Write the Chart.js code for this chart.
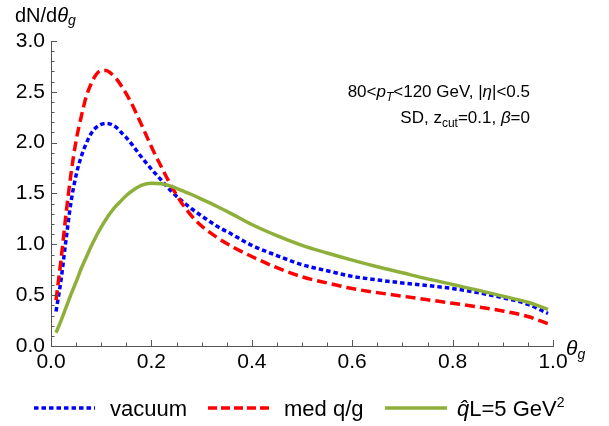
<!DOCTYPE html>
<html>
<head>
<meta charset="utf-8">
<script src="https://cdn.jsdelivr.net/npm/chart.js@4/dist/chart.umd.min.js"></script>
<style>
html,body{margin:0;padding:0;background:#fff;}
#wrap{position:relative;width:609px;height:426px;}
</style>
</head>
<body>
<div id="wrap"><canvas id="c" width="609" height="426"></canvas></div>
<script>
const thetaG = [0.01,0.02,0.03,0.04,0.05,0.06,0.07,0.08,0.09,0.10,0.11,0.12,0.13,0.14,0.15,0.16,0.18,0.20,0.22,0.24,0.26,0.28,0.30,0.33,0.36,0.40,0.45,0.50,0.55,0.60,0.65,0.70,0.75,0.80,0.85,0.90,0.95,0.99];
const vacuum = [0.34,0.65,1.05,1.42,1.68,1.86,1.99,2.09,2.15,2.18,2.19,2.18,2.15,2.10,2.05,1.99,1.86,1.74,1.63,1.52,1.43,1.35,1.28,1.18,1.10,0.99,0.89,0.80,0.74,0.685,0.65,0.62,0.595,0.565,0.525,0.475,0.41,0.32];
const medQG = [0.45,0.85,1.30,1.70,2.02,2.25,2.45,2.58,2.67,2.71,2.71,2.68,2.63,2.56,2.48,2.39,2.18,1.96,1.76,1.57,1.41,1.28,1.18,1.07,0.98,0.88,0.77,0.68,0.62,0.565,0.525,0.49,0.455,0.42,0.385,0.345,0.29,0.22];
const qhatL5 = [0.13,0.25,0.38,0.51,0.63,0.76,0.87,0.98,1.08,1.17,1.25,1.32,1.38,1.43,1.48,1.52,1.58,1.60,1.595,1.57,1.53,1.49,1.445,1.375,1.30,1.195,1.085,0.99,0.915,0.845,0.78,0.72,0.66,0.605,0.55,0.49,0.43,0.36];
const xTicks = [0.0,0.2,0.4,0.6,0.8,1.0];
const yTicks = [0.0,0.5,1.0,1.5,2.0,2.5,3.0];
const seriesNames = ["vacuum","med q/g","q\u0302L=5 GeV\u00b2"];

const BLUE = "#0000ff", RED = "#ff0000", GREEN = "#8eb03a";
const FONT = "'Liberation Sans', Arial, sans-serif";
const pts = arr => thetaG.map((x,i)=>({x:x,y:arr[i]}));

function drawRich(ctx, segs, xRight, base, align) {
  let total = 0;
  segs.forEach(s => { ctx.font = s.font; s.w = ctx.measureText(s.t).width; total += s.w; });
  let x = align === 'left' ? xRight : xRight - total;
  ctx.textBaseline = 'alphabetic';
  ctx.textAlign = 'left';
  segs.forEach(s => { ctx.font = s.font; ctx.fillText(s.t, x, base + (s.dy||0)); x += s.w; });
}

const deco = {
  id: 'deco',
  afterDraw(chart) {
    const ctx = chart.ctx;
    const xs = chart.scales.x, ys = chart.scales.y;
    const L = chart.chartArea.left, B = chart.chartArea.bottom;
    ctx.save();
    ctx.strokeStyle = "#555";
    ctx.lineWidth = 1;
    ctx.beginPath();
    for (let v = 0; v <= 1.0001; v += 0.05) {
      const major = Math.abs(v/0.2 - Math.round(v/0.2)) < 1e-6;
      const px = Math.round(xs.getPixelForValue(v)) + 0.5;
      ctx.moveTo(px, B); ctx.lineTo(px, B - (major ? 6 : 3.5));
    }
    for (let v = 0; v <= 3.0001; v += 0.1) {
      const major = Math.abs(v/0.5 - Math.round(v/0.5)) < 1e-6;
      const py = Math.round(ys.getPixelForValue(v)) + 0.5;
      ctx.moveTo(L, py); ctx.lineTo(L + (major ? 6 : 3.5), py);
    }
    ctx.stroke();

    ctx.fillStyle = "#000";
    // y-axis title
    drawRich(ctx, [
      {t:"dN/d", font:"20px "+FONT},
      {t:"\u03b8", font:"italic 20px "+FONT},
      {t:"g", font:"italic 14px "+FONT, dy:3}
    ], 15, 22, 'left');
    // x-axis title
    drawRich(ctx, [
      {t:"\u03b8", font:"italic 21px "+FONT},
      {t:"g", font:"italic 14px "+FONT, dy:4}
    ], 566, 355, 'left');
    // annotations
    drawRich(ctx, [
      {t:"80<", font:"17px "+FONT},
      {t:"p", font:"italic 17px "+FONT},
      {t:"T", font:"italic 12px "+FONT, dy:4},
      {t:"<120 GeV, |", font:"17px "+FONT},
      {t:"\u03b7", font:"italic 17px "+FONT},
      {t:"|<0.5", font:"17px "+FONT}
    ], 530, 97);
    drawRich(ctx, [
      {t:"SD, z", font:"17px "+FONT},
      {t:"cut", font:"12px "+FONT, dy:4},
      {t:"=0.1, ", font:"17px "+FONT},
      {t:"\u03b2", font:"italic 17px "+FONT},
      {t:"=0", font:"17px "+FONT}
    ], 530, 123);

    // legend
    const ly = 408;
    const items = [
      {c:BLUE, dash:[4.5,3], x0:34, x1:95},
      {c:RED, dash:[9,4], x0:208, x1:269},
      {c:GREEN, dash:[], x0:385, x1:447}
    ];
    items.forEach(it => {
      ctx.beginPath();
      ctx.setLineDash(it.dash);
      ctx.strokeStyle = it.c;
      ctx.lineWidth = 3.5;
      ctx.moveTo(it.x0, ly); ctx.lineTo(it.x1, ly);
      ctx.stroke();
    });
    ctx.setLineDash([]);
    ctx.fillStyle = "#000";
    const lb = ly + 8;
    drawRich(ctx, [{t:seriesNames[0], font:"22px "+FONT}], 110, lb, 'left');
    drawRich(ctx, [{t:seriesNames[1], font:"22px "+FONT}], 284, lb, 'left');
    drawRich(ctx, [
      {t:"q\u0302", font:"italic 22px "+FONT},
      {t:"L=5 GeV", font:"22px "+FONT},
      {t:"2", font:"14px "+FONT, dy:-9}
    ], 457, lb, 'left');
    ctx.restore();
  }
};

new Chart(document.getElementById('c'), {
  type: 'line',
  data: {
    datasets: [
      {label:seriesNames[0], data:pts(vacuum), borderColor:BLUE, borderWidth:3.5, borderDash:[4.5,3], order:2},
      {label:seriesNames[1], data:pts(medQG), borderColor:RED, borderWidth:3.5, borderDash:[10,5], order:1},
      {label:seriesNames[2], data:pts(qhatL5), borderColor:GREEN, borderWidth:3.5, order:0}
    ]
  },
  options: {
    responsive: false,
    animation: false,
    devicePixelRatio: 1,
    layout: {padding: {left: 0, right: 56, top: 41, bottom: 50}},
    elements: {point:{radius:0}, line:{cubicInterpolationMode:'monotone', fill:false}},
    plugins: {legend:{display:false}, tooltip:{enabled:false}},
    scales: {
      x: {
        type:'linear', min:0, max:1,
        afterBuildTicks: s => { s.ticks = xTicks.map(v=>({value:v})); },
        afterFit: s => { s.height = 30; },
        grid:{drawOnChartArea:false, drawTicks:false},
        border:{display:true, color:"#555", width:1},
        ticks:{padding:4, color:"#000", font:{family:FONT, size:21}, maxRotation:0, autoSkip:false,
               callback: v => Number(v).toFixed(1)}
      },
      y: {
        type:'linear', min:0, max:3,
        afterBuildTicks: s => { s.ticks = yTicks.map(v=>({value:v})); },
        afterFit: s => { s.width = 51; },
        grid:{drawOnChartArea:false, drawTicks:false},
        border:{display:true, color:"#555", width:1},
        ticks:{padding:6, color:"#000", font:{family:FONT, size:21}, autoSkip:false,
               callback: v => Number(v).toFixed(1)}
      }
    }
  },
  plugins:[deco]
});
</script>
</body>
</html>
